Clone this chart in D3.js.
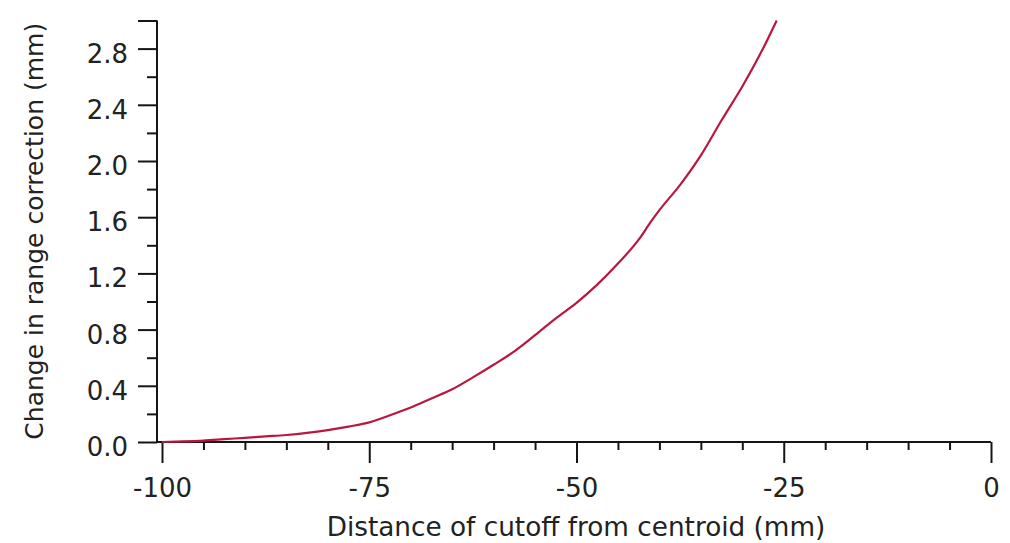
<!DOCTYPE html>
<html>
<head>
<meta charset="utf-8">
<script src="https://cdn.jsdelivr.net/npm/d3@7"></script>
<style>
  html, body { margin: 0; padding: 0; background: #fff; }
  svg { display: block; }
  text { font-family: "DejaVu Sans", Verdana, sans-serif; fill: #222; }
</style>
</head>
<body>
<svg id="chart" width="1010" height="543"></svg>
<script>
// ---- data ----
const distance = [-100, -97.5, -95, -92.5, -90, -87.5, -85, -82.5, -80, -77.5, -75, -72.5, -70, -67.5, -65, -62.5, -60, -57.5, -55, -52.5, -50, -47.5, -45, -42.5, -41, -40, -37.5, -35, -32.5, -30, -27.5, -25.85];
const rangeChange = [0.00, 0.004, 0.01, 0.02, 0.03, 0.04, 0.05, 0.065, 0.085, 0.11, 0.14, 0.19, 0.245, 0.31, 0.375, 0.46, 0.55, 0.645, 0.76, 0.88, 0.99, 1.12, 1.27, 1.44, 1.57, 1.65, 1.83, 2.04, 2.29, 2.53, 2.80, 3.00];

const xMajorTicks = [-100, -75, -50, -25, 0];
const xTickLabels = ["-100", "-75", "-50", "-25", "0"];
const xMinorTicks = [-95, -90, -85, -80, -70, -65, -60, -55, -45, -40, -35, -30, -20, -15, -10, -5];
const yMajorTicks = [0.0, 0.4, 0.8, 1.2, 1.6, 2.0, 2.4, 2.8, 3.0];
const yTickLabels = ["0.0", "0.4", "0.8", "1.2", "1.6", "2.0", "2.4", "2.8", ""];
const yMinorTicks = [0.2, 0.6, 1.0, 1.4, 1.8, 2.2, 2.6];
const xTitle = "Distance of cutoff from centroid (mm)";
const yTitle = "Change in range correction (mm)";

// ---- layout ----
const svg = d3.select("#chart");
const x = d3.scaleLinear().domain([-100, 0]).range([162, 991]);
const y = d3.scaleLinear().domain([0, 3.0]).range([442, 20.5]);
const axisX0 = 157, axisY0 = 442;

const axisColor = "#151515";
const tickFont = 26;

// x axis
const gx = svg.append("g").attr("transform", `translate(0,${axisY0})`);
gx.append("g").call(d3.axisBottom(x).tickValues(xMinorTicks).tickSize(8).tickFormat(""))
  .call(g => g.select(".domain").remove());
gx.append("g").call(d3.axisBottom(x).tickValues(xMajorTicks).tickSize(21).tickPadding(16)
    .tickFormat((d, i) => xTickLabels[i]))
  .call(g => g.select(".domain").remove());
gx.append("line").attr("x1", axisX0).attr("x2", x(0)).attr("y1", 0).attr("y2", 0);
gx.selectAll("line").attr("stroke", axisColor).attr("stroke-width", 2);
gx.selectAll("text").attr("font-size", tickFont).attr("font-family", "DejaVu Sans").attr("fill", "#222")
  .attr("dy", "0.68em");

// y axis
const gy = svg.append("g").attr("transform", `translate(${axisX0},0)`);
gy.append("g").call(d3.axisLeft(y).tickValues(yMinorTicks).tickSize(10).tickFormat(""))
  .call(g => g.select(".domain").remove());
gy.append("g").call(d3.axisLeft(y).tickValues(yMajorTicks).tickSize(19).tickPadding(10)
    .tickFormat((d, i) => yTickLabels[i]))
  .call(g => g.select(".domain").remove());
gy.append("line").attr("x1", 0).attr("x2", 0).attr("y1", y(3.0)).attr("y2", axisY0);
gy.selectAll("line").attr("stroke", axisColor).attr("stroke-width", 2);
gy.selectAll("text").attr("font-size", tickFont).attr("font-family", "DejaVu Sans").attr("fill", "#222")
  .attr("dy", "0.52em");

// titles
svg.append("text")
  .attr("x", (axisX0 + x(0)) / 2 + 2)
  .attr("y", 536)
  .attr("text-anchor", "middle")
  .attr("font-size", 26.3)
  .text(xTitle);

svg.append("text")
  .attr("transform", `translate(43,${(y(3.0) + axisY0) / 2}) rotate(-90)`)
  .attr("text-anchor", "middle")
  .attr("font-size", 25)
  .text(yTitle);

// curve
const line = d3.line().x((d, i) => x(distance[i])).y(d => y(d)).curve(d3.curveMonotoneX);
svg.append("path")
  .datum(rangeChange)
  .attr("fill", "none")
  .attr("stroke", "#b8183f")
  .attr("stroke-width", 2.2)
  .attr("stroke-linejoin", "round")
  .attr("d", line);
</script>
</body>
</html>
